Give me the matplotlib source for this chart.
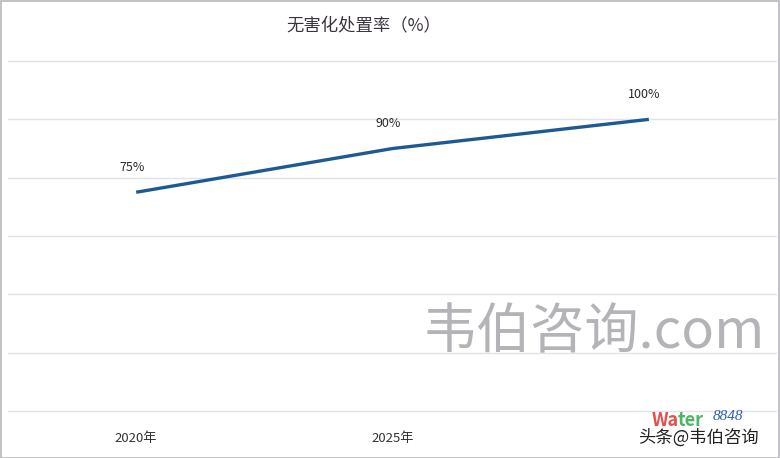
import matplotlib
matplotlib.use("Agg")
import matplotlib.pyplot as plt
from matplotlib.patches import Rectangle

plt.rcParams['font.family'] = ['Noto Sans CJK SC', 'DejaVu Sans']

title = "无害化处置率（%）"
years = ["2020年", "2025年", "2030年"]
rates = [75, 90, 100]
value_labels = ["75%", "90%", "100%"]
y_ticks = [0, 20, 40, 60, 80, 100, 120]

W, H = 780, 458
fig = plt.figure(figsize=(W / 100, H / 100), dpi=100)
fig.patch.set_facecolor("white")

ax = fig.add_axes([8 / W, (H - 413) / H, (777 - 8) / W, (413 - 59) / H])
ax.set_facecolor("white")

x = list(range(len(years)))
ax.plot(x, rates, color="#1d5a94", lw=2.4, solid_capstyle="butt", zorder=3)

for xi, v, lab in zip(x, rates, value_labels):
    ax.annotate(lab, (xi, v), xytext=(-3, 13), textcoords="offset points",
                ha="center", va="bottom", fontsize=9, color="#2a2a2a")

ax.set_xlim(-0.5, len(years) - 0.5)
ax.set_ylim(-0.7, 120.7)
ax.set_yticks(y_ticks)
ax.set_yticklabels([])
ax.set_xticks(x)
ax.set_xticklabels(years, fontsize=9.5, color="#333333")
# the last year label sits under the site stamp in the corner
ax.get_xticklabels()[-1].set_visible(False)
ax.tick_params(axis="both", length=0)
ax.tick_params(axis="x", pad=14)
ax.grid(axis="y", color="#e2e3ea", lw=1.0)
ax.set_axisbelow(True)
for s in ax.spines.values():
    s.set_visible(False)

fig.text(364 / W, 1 - 25 / H, title, ha="center", va="center",
         fontsize=12.5, color="#3a3340")

# watermarks
fig.text(594 / W, 1 - 333 / H, "韦伯咨询.com", ha="center", va="center",
         fontsize=39, color="#a2a2a6", fontweight="light", alpha=0.8)
fig.text(698 / W, 1 - 438 / H, "头条@韦伯咨询", ha="center", va="center",
         fontsize=12.5, color="#222222")
fig.text(652 / W, 1 - 420 / H, "Wa", ha="left", va="center", fontsize=13,
         fontweight="bold", color="#e03030", alpha=0.85)
fig.text(678 / W, 1 - 420 / H, "ter", ha="left", va="center", fontsize=13,
         fontweight="bold", color="#2fa84a", alpha=0.85)
fig.text(713 / W, 1 - 417 / H, "8848", ha="left", va="center", fontsize=11,
         style="italic", color="#2a5cc0", family="Liberation Serif")

# outer frame
fig.add_artist(Rectangle((0.5 / W, 0.5 / H), 1 - 1.5 / W, 1 - 1.5 / H,
                         transform=fig.transFigure, fill=False,
                         ec="#b8b8bc", lw=1.2))

fig.savefig("out.png", dpi=100, facecolor="white")
